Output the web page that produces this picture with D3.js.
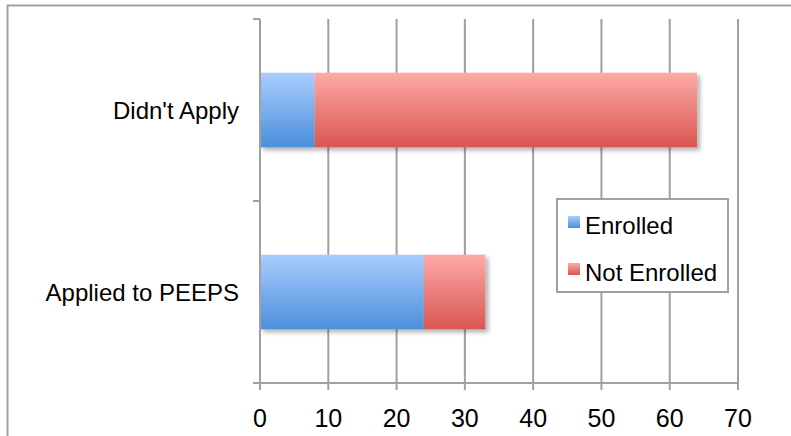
<!DOCTYPE html>
<html>
<head>
<meta charset="utf-8">
<script src="https://cdn.jsdelivr.net/npm/d3@7"></script>
<style>
  body { margin: 0; background: #fff; }
  svg { display: block; font-family: "Liberation Sans", Arial, sans-serif; }
</style>
</head>
<body>
<div id="chart"></div>
<script>
// categories top to bottom
const categories = ["Didn't Apply", "Applied to PEEPS"];
const enrolled = [8, 24];
const notEnrolled = [56, 9];
const seriesNames = ["Enrolled", "Not Enrolled"];
const xTicks = [0, 10, 20, 30, 40, 50, 60, 70];

const width = 791, height = 436;
const margin = { top: 19, right: 53, bottom: 53, left: 260 };
const chartW = width - margin.left - margin.right;
const chartH = height - margin.top - margin.bottom;

const svg = d3.select('#chart').append('svg').attr('width', width).attr('height', height);
const defs = svg.append('defs');

function grad(id, top, bottom) {
  const g = defs.append('linearGradient').attr('id', id).attr('x1', 0).attr('y1', 0).attr('x2', 0).attr('y2', 1);
  g.append('stop').attr('offset', '0%').attr('stop-color', top);
  g.append('stop').attr('offset', '100%').attr('stop-color', bottom);
}
grad('gBlue', '#aacdfd', '#4b8fdb');
grad('gRed', '#fdaaa8', '#d95650');

const shadow = defs.append('filter').attr('id', 'shadow').attr('x', '-5%').attr('y', '-10%').attr('width', '115%').attr('height', '130%');
shadow.append('feDropShadow').attr('dx', 3).attr('dy', 3).attr('stdDeviation', 2).attr('flood-color', '#000').attr('flood-opacity', 0.3);

// outer frame (only top and left visible)
svg.append('path').attr('d', `M7.5,${height}V5.5H${width}`).attr('fill', 'none').attr('stroke', '#a0a0a0').attr('stroke-width', 2);

const g = svg.append('g').attr('transform', `translate(${margin.left},${margin.top})`);

const x = d3.scaleLinear().domain([0, 70]).range([0, chartW]);
const y = d3.scaleBand().domain(categories).range([0, chartH]).paddingInner(0.59).paddingOuter(0.295);
const yb = d3.scaleBand().domain(categories).range([0, chartH]);

// gridlines
g.selectAll('.grid').data(xTicks.slice(1)).enter().append('line')
  .attr('x1', d => x(d)).attr('x2', d => x(d))
  .attr('y1', 0).attr('y2', chartH)
  .attr('stroke', '#a0a0a0').attr('stroke-width', 2);

// bars
const rows = categories.map((c, i) => ({ c, e: enrolled[i], n: notEnrolled[i] }));
const bar = g.selectAll('.bar').data(rows).enter().append('g').attr('filter', 'url(#shadow)');
bar.append('rect')
  .attr('x', x(0)).attr('y', d => y(d.c))
  .attr('width', d => x(d.e) - x(0)).attr('height', y.bandwidth())
  .attr('fill', 'url(#gBlue)');
bar.append('rect')
  .attr('x', d => x(d.e)).attr('y', d => y(d.c))
  .attr('width', d => x(d.e + d.n) - x(d.e)).attr('height', y.bandwidth())
  .attr('fill', 'url(#gRed)');

// y axis
const axisColor = '#a0a0a0';
g.append('line').attr('x1', 0).attr('x2', 0).attr('y1', 0).attr('y2', chartH + 7).attr('stroke', axisColor).attr('stroke-width', 2);
const yTickPos = [0, yb.bandwidth(), chartH];
g.selectAll('.ytick').data(yTickPos).enter().append('line')
  .attr('x1', -7).attr('x2', 0).attr('y1', d => d).attr('y2', d => d)
  .attr('stroke', axisColor).attr('stroke-width', 2);
g.selectAll('.ylab').data(categories).enter().append('text')
  .attr('x', -21).attr('y', d => yb(d) + yb.bandwidth() / 2)
  .attr('text-anchor', 'end').attr('dominant-baseline', 'central')
  .attr('font-size', 24).attr('fill', '#000').text(d => d);

// x axis
g.append('line').attr('x1', -7).attr('x2', chartW).attr('y1', chartH).attr('y2', chartH).attr('stroke', axisColor).attr('stroke-width', 2);
g.selectAll('.xtick').data(xTicks).enter().append('line')
  .attr('x1', d => x(d)).attr('x2', d => x(d)).attr('y1', chartH).attr('y2', chartH + 7)
  .attr('stroke', axisColor).attr('stroke-width', 2);
g.selectAll('.xlab').data(xTicks).enter().append('text')
  .attr('x', d => x(d)).attr('y', chartH + 44)
  .attr('text-anchor', 'middle').attr('font-size', 25).attr('fill', '#000').text(d => d);

// legend
const lg = svg.append('g').attr('transform', 'translate(557,199)');
lg.append('rect').attr('width', 171).attr('height', 93).attr('fill', '#fff').attr('stroke', '#a0a0a0').attr('stroke-width', 2);
const items = lg.selectAll('.item').data(seriesNames).enter().append('g')
  .attr('transform', (d, i) => `translate(11,${24 + i * 47})`);
items.append('rect').attr('x', 0).attr('y', -7).attr('width', 12).attr('height', 12)
  .attr('fill', (d, i) => i === 0 ? 'url(#gBlue)' : 'url(#gRed)');
items.append('text').attr('x', 17).attr('y', 2).attr('dominant-baseline', 'central')
  .attr('font-size', 24).attr('fill', '#000').text(d => d);
</script>
</body>
</html>
